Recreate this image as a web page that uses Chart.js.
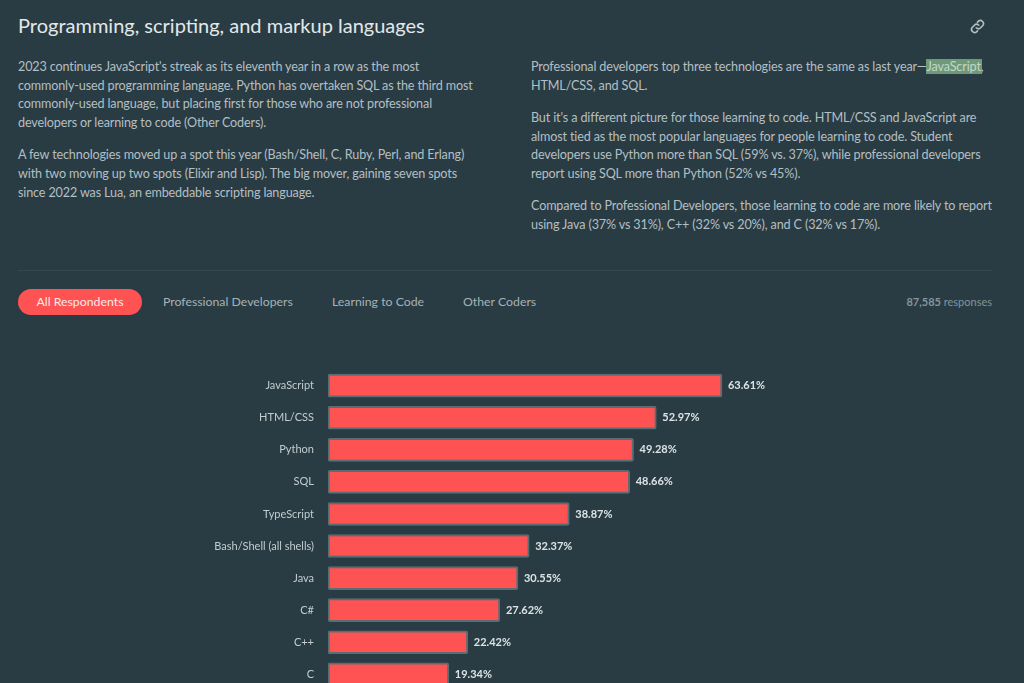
<!DOCTYPE html>
<html>
<head>
<meta charset="utf-8">
<script src="https://cdn.jsdelivr.net/npm/chart.js@4"></script>
<style>
  html,body{margin:0;padding:0;background:#293c44;width:1024px;height:683px;overflow:hidden;font-family:Lato,sans-serif}
  .abs{position:absolute;white-space:nowrap}
  h1{margin:0;left:18px;top:12px;font-size:20px;font-weight:400;line-height:26px;color:#e3e8e9}
  .copy{font-size:12.6px;line-height:18.7px;color:#b4bfc2;letter-spacing:-0.14px}
  .copy p{margin:0 0 13.6px}
  mark{background:#6f9a78;color:#c4d6c8;padding:0 1px;margin:0 -1px}
  .rule{left:18px;top:270px;width:974px;height:1px;background:#33474f}
  .tab{top:289px;height:26px;line-height:26px;font-size:12.3px;color:#a6b2b6}
  .tab.on{left:18px;width:124px;text-align:center;background:#ff5252;color:#fbe9e9;border-radius:13px}
  .count{top:295px;right:32px;font-size:11px;line-height:14px;color:#84949a}
  .count b{font-weight:700}
  #wrap{position:absolute;left:0;top:357px;width:1024px;height:346px}
  svg{position:absolute;left:970px;top:19px}
</style>
</head>
<body>
<h1 class="abs">Programming, scripting, and markup languages</h1>
<svg width="15" height="15" viewBox="0 0 24 24" fill="none" stroke="#b4bfc2" stroke-width="2.6" stroke-linecap="round">
  <path d="M10 14a5 5 0 0 0 7 0l3.5-3.5a5 5 0 0 0-7-7L12 5"/>
  <path d="M14 10a5 5 0 0 0-7 0l-3.5 3.5a5 5 0 0 0 7 7L12 19"/>
</svg>
<div class="abs copy" style="left:18px;top:58px">
  <p>2023 continues JavaScript's streak as its eleventh year in a row as the most<br>commonly-used programming language. Python has overtaken SQL as the third most<br>commonly-used language, but placing first for those who are not professional<br>developers or learning to code (Other Coders).</p>
  <p>A few technologies moved up a spot this year (Bash/Shell, C, Ruby, Perl, and Erlang)<br>with two moving up two spots (Elixir and Lisp). The big mover, gaining seven spots<br>since 2022 was Lua, an embeddable scripting language.</p>
</div>
<div class="abs copy" style="left:531px;top:58px">
  <p>Professional developers top three technologies are the same as last year—<mark>JavaScript</mark>,<br>HTML/CSS, and SQL.</p>
  <p>But it's a different picture for those learning to code. HTML/CSS and JavaScript are<br>almost tied as the most popular languages for people learning to code. Student<br>developers use Python more than SQL (59% vs. 37%), while professional developers<br>report using SQL more than Python (52% vs 45%).</p>
  <p>Compared to Professional Developers, those learning to code are more likely to report<br>using Java (37% vs 31%), C++ (32% vs 20%), and C (32% vs 17%).</p>
</div>
<div class="abs rule"></div>
<div class="abs tab on">All Respondents</div>
<div class="abs tab" style="left:163px">Professional Developers</div>
<div class="abs tab" style="left:332px">Learning to Code</div>
<div class="abs tab" style="left:463px">Other Coders</div>
<div class="abs count"><b>87,585</b> responses</div>
<div id="wrap"><canvas id="chart"></canvas></div>
<script>
const categories = ['JavaScript','HTML/CSS','Python','SQL','TypeScript','Bash/Shell (all shells)','Java','C#','C++','C'];
const shares = [63.61,52.97,49.28,48.66,38.87,32.37,30.55,27.62,22.42,19.34];

// value text at the end of each bar
const barLabels = {
  id:'barLabels',
  afterDatasetsDraw(chart){
    const ctx = chart.ctx;
    const bars = chart.getDatasetMeta(0).data;
    ctx.save();
    ctx.font = '700 11px Lato';
    ctx.fillStyle = '#dde3e4';
    ctx.textAlign = 'left';
    ctx.textBaseline = 'middle';
    bars.forEach((b,i)=>{
      ctx.fillText(shares[i].toFixed(2)+'%', b.x+6, b.y);
    });
    ctx.restore();
  }
};

new Chart(document.getElementById('chart'), {
  type:'bar',
  data:{
    labels:categories,
    datasets:[{
      data:shares,
      base:-0.24,
      backgroundColor:'#ff5252',
      borderColor:'#5b6d74',
      borderWidth:2,
      borderRadius:2,
      borderSkipped:false,
      barThickness:23
    }]
  },
  options:{
    indexAxis:'y',
    responsive:true,
    maintainAspectRatio:false,
    animation:false,
    layout:{padding:0},
    plugins:{legend:{display:false}, tooltip:{enabled:false}},
    scales:{
      x:{display:false, min:-0.24, max:112.56},
      y:{
        grid:{display:false},
        border:{display:false},
        afterFit(axis){ axis.width = 328; },
        ticks:{color:'#c3cdcf', padding:6, font:{family:'Lato', size:11}}
      }
    }
  },
  plugins:[barLabels]
});
</script>
</body>
</html>
